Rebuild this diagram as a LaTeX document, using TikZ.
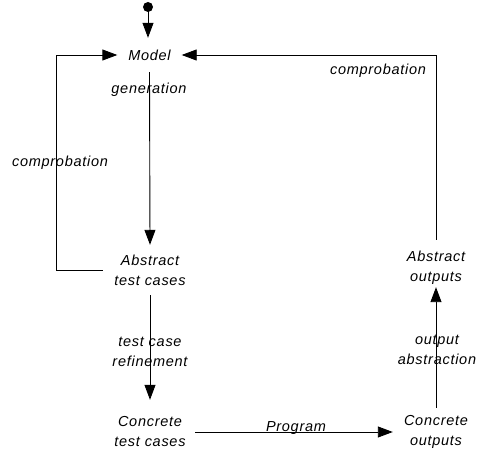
\documentclass[tikz,border=0pt]{standalone}
\usepackage{fontspec}
\setmainfont{Liberation Sans}[LetterSpace=5]
\usetikzlibrary{arrows.meta}
\begin{document}
\begin{tikzpicture}[x=1pt,y=-1pt,
  lbl/.style={font=\fontsize{14.5}{20}\selectfont\itshape, align=center, inner sep=0pt},
  arr/.style={line width=0.9pt, -{Triangle[length=15pt,width=11pt]}}]
\useasboundingbox (0,0) rectangle (491,454);
\fill (148,7) circle (5) coordinate (dot);
\node[lbl, minimum width=64pt, minimum height=34pt] (model) at (149.5,55) {Model};
\node[lbl, minimum width=94pt, minimum height=50pt] (atc) at (150,270) {Abstract\\test cases};
\node[lbl, minimum width=90pt, minimum height=64pt] (ctc) at (150,432) {Concrete\\test cases};
\node[lbl, minimum width=86pt, minimum height=48pt] (cout) at (436,432) {Concrete\\outputs};
\node[lbl, minimum width=70pt, minimum height=38pt] (aout) at (436,268) {Abstract\\outputs};
\node[lbl] (gen) at (149,90) {generation};
\node[lbl] (comp1) at (60,163) {comprobation};
\node[lbl] (comp2) at (378,71) {comprobation};
\node[lbl] (tcr) at (150,352) {test case\\refinement};
\node[lbl] (oa) at (437,350) {output\\abstraction};
\node[lbl] (prog) at (296,428) {Program};
\draw[arr] (dot) -- (dot |- model.north);
\draw[arr] (model.south) -- (atc.north);
\draw[arr] (atc.west) -- ++(-46,0) |- (model.west);
\draw[arr] (atc.south) -- (ctc.north);
\draw[arr] (ctc.east) -- (cout.west);
\draw[arr] (cout.north) -- (aout.south);
\draw[arr, shorten <=9pt] (aout.north) |- (model.east);
\end{tikzpicture}
\end{document}
